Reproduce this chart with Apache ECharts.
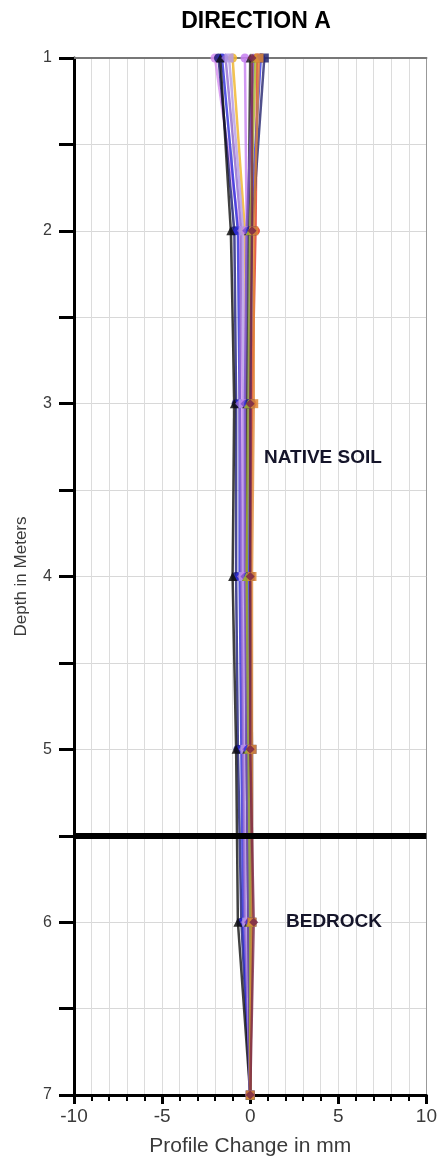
<!DOCTYPE html>
<html><head><meta charset="utf-8">
<script src="https://cdn.jsdelivr.net/npm/echarts@6/dist/echarts.min.js"></script>
<style>html,body{margin:0;padding:0;background:#fff}#c{width:440px;height:1166px}</style>
</head><body><div id="c"></div>
<script>
const depths = [1, 2, 3, 4, 5, 6, 7];
const s01 = [-2.0, -0.6, -0.5, -0.5, -0.4, -0.3, 0];
const s02 = [-1.8, -0.9, -0.8, -0.8, -0.7, -0.5, 0];
const s03 = [-1.6, -0.7, -0.6, -0.6, -0.5, -0.4, 0];
const s04 = [-1.7, -1.1, -0.9, -1.0, -0.8, -0.7, 0];
const s05 = [-1.4, -0.5, -0.6, -0.5, -0.4, -0.3, 0];
const s06 = [-1.0, -0.3, -0.2, -0.2, -0.1, -0.1, 0];
const s07 = [-1.2, -0.4, -0.4, -0.4, -0.3, -0.2, 0];
const s08 = [-0.3, -0.2, -0.3, -0.3, -0.2, -0.1, 0];
const s09 = [0.0, -0.1, -0.2, -0.2, -0.2, -0.1, 0];
const s10 = [0.2, -0.2, -0.3, -0.3, -0.2, -0.1, 0];
const s11 = [0.4, 0.3, 0.1, 0.0, 0.0, 0.0, 0];
const s12 = [0.6, 0.0, -0.1, -0.1, -0.1, 0.0, 0];
const s13 = [0.8, 0.1, 0.0, 0.0, 0.1, 0.1, 0];
const s14 = [0.3, 0.0, -0.1, -0.2, -0.1, 0.0, 0];
const s15 = [0.5, 0.2, 0.2, 0.1, 0.1, 0.1, 0];
const s16 = [0.1, 0.1, 0.0, 0.0, 0.0, 0.2, 0];
const seriesValues = [s01,s02,s03,s04,s05,s06,s07,s08,s09,s10,s11,s12,s13,s14,s15,s16];
const colors = ['#d48ef0','#1c1c78','#2b2bd8','#111111','#8f68d0','#f0b428','#b59be6','#c67ff0',
                '#222222','#7a55c8','#e03424','#3535e0','#24246e','#a8b828','#e08a38','#7a2848'];
const symbols = ['circle','circle','circle','triangle','diamond','circle','rect','circle',
                 'triangle','diamond','circle','circle','rect','triangle','rect','diamond'];
const xTicks = [-10, -5, 0, 5, 10];
const boundaryDepth = 5.5;

const chart = echarts.init(document.getElementById('c'), null, {renderer:'canvas'});
const series = seriesValues.map((vals, i) => ({
  type: 'line',
  data: vals.map((v, k) => [v, depths[k]]),
  symbol: symbols[i],
  symbolSize: 9,
  lineStyle: {color: colors[i], width: 2.5, opacity: 0.8},
  itemStyle: {color: colors[i], opacity: 0.85},
  z: 3,
  silent: true,
  animation: false
}));
series.push({
  type: 'line', data: [], silent: true, animation: false,
  markLine: {
    silent: true, symbol: 'none', label: {show: false},
    lineStyle: {color: '#000', width: 6, type: 'solid'},
    data: [{yAxis: boundaryDepth}]
  }
});
chart.setOption({
  animation: false,
  title: {
    text: 'DIRECTION A', left: 251, top: 5, textAlign: 'center',
    textStyle: {fontFamily: 'Liberation Sans', fontWeight: 'bold', fontSize: 23, color: '#000'}
  },
  grid: {left: 74, right: 11, top: 58, bottom: 71, containLabel: false},
  xAxis: [{
    type: 'value', min: -10, max: 10, interval: 5,
    name: 'Profile Change in mm', nameLocation: 'middle', nameGap: 41,
    nameTextStyle: {fontFamily: 'Liberation Sans', fontSize: 21, color: '#3a3a3a'},
    axisLine: {show: true, onZero: false, lineStyle: {color: '#000', width: 3}},
    axisTick: {show: true, length: 9, lineStyle: {color: '#000', width: 3}},
    minorTick: {show: true, splitNumber: 5, length: 6, lineStyle: {color: '#000', width: 2}},
    axisLabel: {fontFamily: 'Liberation Sans', fontSize: 19, color: '#3a3a3a', margin: 12,
      formatter: v => xTicks.includes(v) ? String(v) : ''},
    splitLine: {show: true, lineStyle: {color: '#dcdcdc', width: 1}},
    minorSplitLine: {show: true, lineStyle: {color: '#dcdcdc', width: 1}}
  }, {
    type: 'value', position: 'top', min: -10, max: 10,
    axisLine: {show: true, onZero: false, lineStyle: {color: '#777', width: 2}},
    axisTick: {show: false}, axisLabel: {show: false}, splitLine: {show: false}
  }],
  yAxis: [{
    type: 'value', inverse: true, min: 1, max: 7, interval: 0.5,
    name: 'Depth in Meters', nameLocation: 'middle', nameGap: 44, nameRotate: 90,
    nameTextStyle: {fontFamily: 'Liberation Sans', fontSize: 17, color: '#3a3a3a'},
    axisLine: {show: true, onZero: false, lineStyle: {color: '#000', width: 3}},
    axisTick: {show: true, length: 15, lineStyle: {color: '#000', width: 3}},
    axisLabel: {fontFamily: 'Liberation Sans', fontSize: 16, color: '#3a3a3a', margin: 22,
      formatter: v => Number.isInteger(v) ? String(v) : ''},
    splitLine: {show: true, lineStyle: {color: '#d8d8d8', width: 1}}
  }, {
    type: 'value', inverse: true, min: 1, max: 7, position: 'right',
    axisLine: {show: true, onZero: false, lineStyle: {color: '#999', width: 1}},
    axisTick: {show: false}, axisLabel: {show: false}, splitLine: {show: false}
  }],
  graphic: [
    {type: 'text', z: 100, left: 264, top: 448, style: {text: 'NATIVE SOIL', fontFamily: 'Liberation Sans', fontWeight: 'bold', fontSize: 19, fill: '#15152a'}},
    {type: 'text', z: 100, left: 286, top: 912, style: {text: 'BEDROCK', fontFamily: 'Liberation Sans', fontWeight: 'bold', fontSize: 19, fill: '#15152a'}}
  ],
  series: series
});
</script></body></html>
